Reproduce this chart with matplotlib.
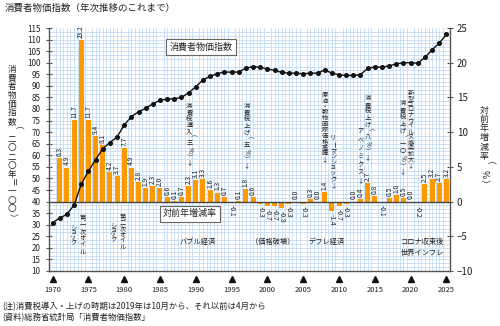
import numpy as np
import matplotlib
matplotlib.use('Agg')
import matplotlib.pyplot as plt
from matplotlib import transforms
from matplotlib.ticker import FixedLocator

plt.rcParams['font.family'] = ['Noto Sans CJK JP', 'DejaVu Sans']

# ── Data ───────────────────────────────────────────────────────────────────────
cpi_years = list(range(1970, 2026))
cpi = [30.9, 32.9, 34.5, 38.5, 47.5, 53.1, 58.1, 62.8, 65.5, 67.9,
       73.1, 76.7, 78.8, 80.3, 82.2, 83.8, 84.3, 84.4, 85.0, 87.0,
       89.6, 92.6, 94.1, 95.3, 96.0, 95.9, 96.0, 97.7, 98.3, 98.0,
       97.3, 96.7, 95.8, 95.5, 95.5, 95.2, 95.5, 95.5, 96.9, 95.5,
       94.8, 94.5, 94.5, 94.9, 97.5, 98.2, 98.1, 98.6, 99.5, 100.0,
       100.0, 99.8, 102.3, 105.6, 108.5, 112.2]

rate_years = list(range(1971, 2026))
rate = [6.3, 4.9, 11.7, 23.2, 11.7, 9.4, 8.1, 4.2, 3.7, 7.7,
        4.9, 2.8, 1.9, 2.3, 2.0, 0.6, 0.1, 0.7, 2.3, 3.1,
        3.3, 1.6, 1.3, 0.7, -0.1, 0.1, 1.8, 0.6, -0.3, -0.7,
        -0.7, -0.9, -0.3, 0.0, -0.3, 0.3, 0.0, 1.4, -1.4, -0.7,
        -0.3, 0.0, 0.4, 2.7, 0.8, -0.1, 0.5, 1.0, 0.5, 0.0,
        -0.2, 2.5, 3.2, 2.7, 3.2]

year_ticks = list(range(1970, 2026, 5))

# events: (year, text)
events = [
    (1989.1, '消費税導入（三%）↓'),
    (1997.1, '消費税上げ（五%）↓'),
    (2008.0, '原油・穀物国際価格高騰↓'),
    (2009.2, 'リーマンショック↓'),
    (2013.0, 'アベノミクス↓'),
    (2014.0, '消費税上げ（八%）↓'),
    (2018.9, '消費税上げ（一〇%）↓'),
    (2020.0, '新型コロナウイルス感染拡大↓'),
    (1974.2, '第一次オイル'),
    (1972.9, 'ショック'),
    (1979.8, '第二次オイル'),
    (1978.5, 'ショック'),
]
# vertical extent of each event column (pixels from top)
event_span = [(103, 165), (103, 168), (92, 162), (135, 188), (128, 184),
              (95, 160), (100, 175), (90, 168),
              (215, 255), (225, 245), (214, 250), (223, 242)]

periods = [(1990.3, 242, 'バブル経済'), (2000.8, 242, '（価格破壊）'),
           (2008.3, 242, 'デフレ経済'), (2021.7, 247.5, 'コロナ収束後\n世界インフレ')]

W, H = 500, 326
TXT = '#222222'
AXC = '#555555'
GRID = '#c4dcf4'
BAR = '#ff9900'

fig = plt.figure(figsize=(W / 100, H / 100), dpi=100)
ax = fig.add_axes([49 / W, 1 - 271 / H, 401 / W, 243 / H])
ax2 = ax.twinx()


def fy(y):
    return 1 - y / H


ROT = '（）ー＝%'


def stack(x, top, bottom, s, size, trans):
    # upright characters stacked top-down
    step = (bottom - top) / len(s) * 0.72
    for i, ch in enumerate(s):
        off = transforms.offset_copy(trans, fig=fig, x=0, y=-(i + 0.5) * step,
                                     units='points')
        fig.text(x, fy(top), ch, transform=off, ha='center', va='center',
                 fontsize=size, color=TXT, rotation=-90 if ch in ROT else 0)


# ── Bars (right scale) ─────────────────────────────────────────────────────────
ax.bar(rate_years, rate, width=0.7, color=BAR, zorder=2)
ax.axhline(0, color='#444444', lw=1.0, zorder=3)
ax.set_ylim(-10, 25)
ax.set_xlim(1969.5, 2025.5)

for yr, v in zip(rate_years, rate):
    if v >= 0:
        ax.annotate(f'{v:.1f}', (yr, v), xytext=(0, 1.5), textcoords='offset points',
                    rotation=90, ha='center', va='bottom', fontsize=4.8, color=TXT)
    else:
        ax.annotate(f'{v:.1f}', (yr, v), xytext=(0, -2), textcoords='offset points',
                    rotation=-90, ha='center', va='top', fontsize=4.8, color=TXT)

ax.yaxis.tick_right()
ax.set_yticks(np.arange(-10, 26, 5))
ax.set_yticklabels([f'{t}' if t >= 0 else f'−{-t}' for t in range(-10, 26, 5)])
ax.tick_params(axis='y', direction='inout', length=4, width=0.8, color=AXC,
               labelsize=7, labelcolor=TXT, pad=3)

ax.set_xticks(year_ticks)
ax.tick_params(axis='x', length=0, labelsize=5.5, labelcolor=TXT, pad=11)

# light blue mesh: half years, 5/3 index points
ax.xaxis.set_minor_locator(FixedLocator(np.arange(1970, 2025.6, 0.5)))
ax.yaxis.set_minor_locator(FixedLocator(np.linspace(-10, 25, 64)))
ax.tick_params(which='minor', length=0)
ax.grid(which='minor', color=GRID, lw=0.6, zorder=0)
ax.set_axisbelow(True)

for side in ['left', 'right', 'bottom']:
    ax.spines[side].set_color(AXC)
    ax.spines[side].set_linewidth(1.0)
ax.spines['top'].set_visible(False)

# ── CPI line (left scale) ──────────────────────────────────────────────────────
ax2.plot(cpi_years, cpi, color='#111111', lw=1.0, marker='o', ms=2.6, zorder=4)
ax2.set_ylim(10, 115)
ax2.yaxis.tick_left()
ax2.set_yticks(np.arange(10, 116, 5))
ax2.tick_params(axis='y', direction='inout', length=4, width=0.8, color=AXC,
                labelsize=5.8, labelcolor=TXT, pad=4)
for s in ax2.spines.values():
    s.set_visible(False)

# year markers under the axis
tri = transforms.blended_transform_factory(ax2.transData, ax2.transAxes)
ax2.plot(year_ticks, [-0.033] * len(year_ticks), transform=tri, marker='^',
         ls='none', ms=5, color='#111111', clip_on=False)

# ── Labels ─────────────────────────────────────────────────────────────────────
box = dict(boxstyle='square,pad=0.35', fc='white', ec='#666666', lw=0.8)
ax2.text(0.379, 0.922, '消費者物価指数', transform=ax2.transAxes, ha='center',
         va='center', fontsize=6.5, color=TXT, bbox=box, zorder=6)
ax2.text(0.352, 0.235, '対前年増減率', transform=ax2.transAxes, ha='center',
         va='center', fontsize=6.5, color=TXT, bbox=box, zorder=6)

data_fig = transforms.blended_transform_factory(ax.transData, fig.transFigure)
for (yr, s), (top, bottom) in zip(events, event_span):
    stack(yr, top, bottom, s, 4.5, data_fig)

for yr, y, s in periods:
    fig.text(yr, fy(y), s, transform=data_fig, ha='center', va='center',
             fontsize=5.2, color=TXT, linespacing=1.5)

stack(12 / W, 65, 222, '消費者物価指数（二〇二〇年＝一〇〇）', 6.2, fig.transFigure)
stack(484 / W, 106, 188, '対前年増減率（%）', 6.4, fig.transFigure)

fig.text(5 / W, fy(8), '消費者物価指数（年次推移のこれまで）', ha='left', va='center',
         fontsize=6.8, color=TXT)
fig.text(2 / W, fy(307), '(注)消費税導入・上げの時期は2019年は10月から、それ以前は4月から',
         ha='left', va='center', fontsize=6.0, color=TXT)
fig.text(2 / W, fy(318), '(資料)総務省統計局「消費者物価指数」',
         ha='left', va='center', fontsize=6.0, color=TXT)

fig.savefig('out.png', dpi=100)
